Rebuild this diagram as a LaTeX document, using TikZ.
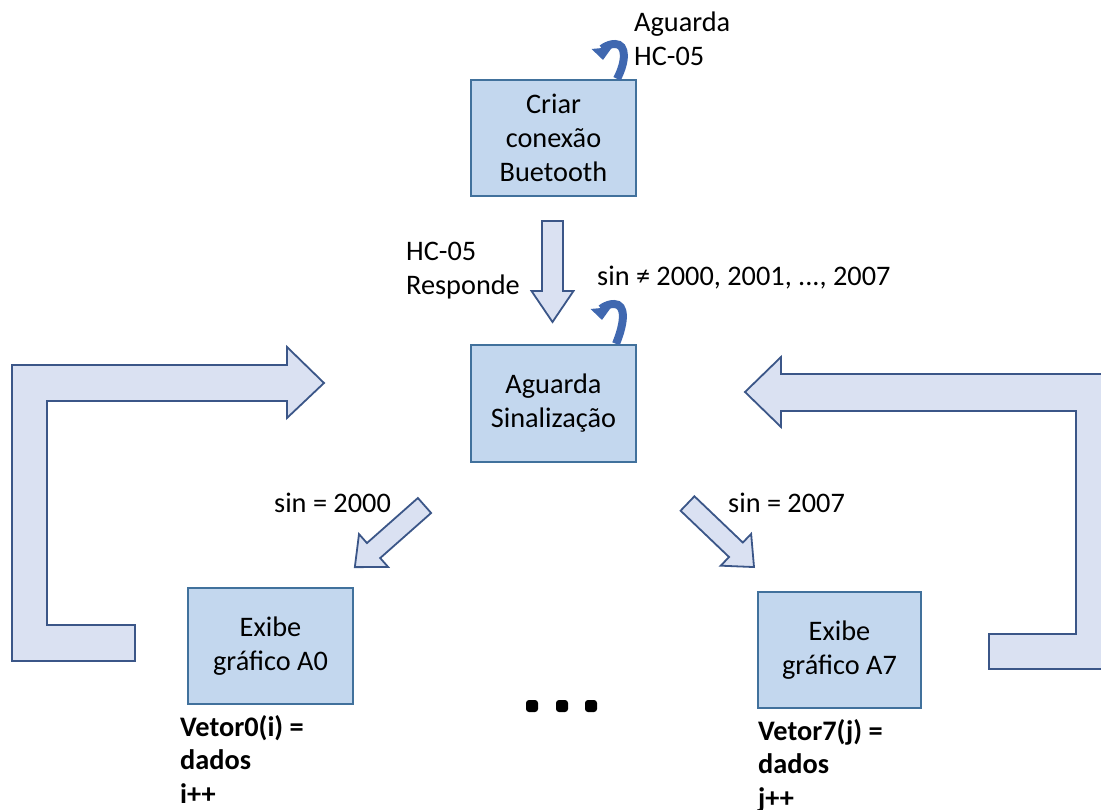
\documentclass[tikz,border=0pt]{standalone}
\usepackage{fontspec}
\setmainfont{Carlito}
\usetikzlibrary{arrows.meta}

\definecolor{boxfill}{HTML}{C3D7EE}
\definecolor{boxline}{HTML}{41719C}
\definecolor{arrfill}{HTML}{DAE1F2}
\definecolor{arrline}{HTML}{3B5688}
\definecolor{curlcol}{HTML}{4068B0}

% block arrow: tail point, direction angle, length, shaft half width, head half width, head length
\newcommand\fatarrow[7]{%
  \draw[blockarrow, shift={(#1,#2)}, rotate=#3]
    (0,-#5) -- (#4-#7,-#5) -- (#4-#7,-#6) -- (#4,0) -- (#4-#7,#6) -- (#4-#7,#5) -- (0,#5) -- cycle;}

\tikzset{
  stepbox/.style={draw=boxline, line width=2.4pt, fill=boxfill, inner sep=0pt,
    minimum width=165pt, minimum height=116pt, align=center},
  blockarrow/.style={draw=arrline, line width=1.8pt, fill=arrfill, line join=miter},
  lbl/.style={inner sep=0pt, anchor=base west, align=left},
  curl/.style={draw=curlcol, line width=8pt, line cap=butt,
    -{Triangle[width=20pt,length=12pt]}},
  dotmark/.style={fill=black, rounded corners=3pt},
}

\begin{document}
\begin{tikzpicture}[x=1pt, y=-1pt, font=\fontsize{28.3}{34}\selectfont]
\useasboundingbox (0,0) rectangle (1101,810);
\clip (0,0) rectangle (1101,810);

% process boxes
\node[stepbox] (cria) at (553.5,138) {Criar\\conexão\\Buetooth};
\node[stepbox, minimum height=117pt] (sinal) at (553.5,403.5) {Aguarda\\Sinalização};
\node[stepbox] (graf0) at (270.5,646) {Exibe\\gráfico A0};
\node[stepbox, minimum width=163pt] (graf7) at (839.5,650) {Exibe\\gráfico A7};

% straight block arrows
\fatarrow{552.5}{221}{270}{101}{10.5}{21}{31}
\fatarrow{424.5}{505.5}{221.5}{93}{10}{22}{25}
\fatarrow{687.5}{503.5}{-43.7}{92}{10}{22}{25}

% return loops
\draw[blockarrow] (12,365) -- (287,365) -- (287,347) -- (324,383) -- (287,418)
  -- (287,401) -- (47,401) -- (47,625) -- (135,625) -- (135,661) -- (12,661) -- cycle;
\draw[blockarrow] (1112,374) -- (781,374) -- (781,357) -- (745,392) -- (781,427)
  -- (781,411) -- (1076,411) -- (1076,634) -- (989,634) -- (989,669) -- (1112,669) -- cycle;

% self-loop hooks
\draw[curl] (cria.north -| 617,0) .. controls (626,62) and (627,44) .. (615,44)
  .. controls (607,44) and (602,49) .. (603,60);
\draw[curl] (sinal.north -| 616,0) .. controls (625,322) and (626,304) .. (614,304)
  .. controls (606,304) and (601,309) .. (602,320);

% labels
\node[lbl] (waitlbl) at (634,66) {Aguarda\\HC-05};
\node[lbl] (resplbl) at (406,295) {HC-05\\Responde};
\node[lbl] (neqlbl) at (597,286) {sin ≠ 2000, 2001, ..., 2007};
\node[lbl] (s0lbl) at (274,512) {sin = 2000};
\node[lbl] (s7lbl) at (728,512) {sin = 2007};
\node[lbl, font=\fontsize{28.3}{33.5}\selectfont\bfseries] (v0lbl) at (180,803) {Vetor0(i) =\\dados\\i++};
\node[lbl, font=\fontsize{28.3}{33.5}\selectfont\bfseries] (v7lbl) at (758,807) {Vetor7(j) =\\dados\\j++};

% ellipsis dots
\foreach \dx [count=\k] in {532,562,591}
  \fill[dotmark] (\dx-6,700) rectangle (\dx+6,712);
\end{tikzpicture}
\end{document}
